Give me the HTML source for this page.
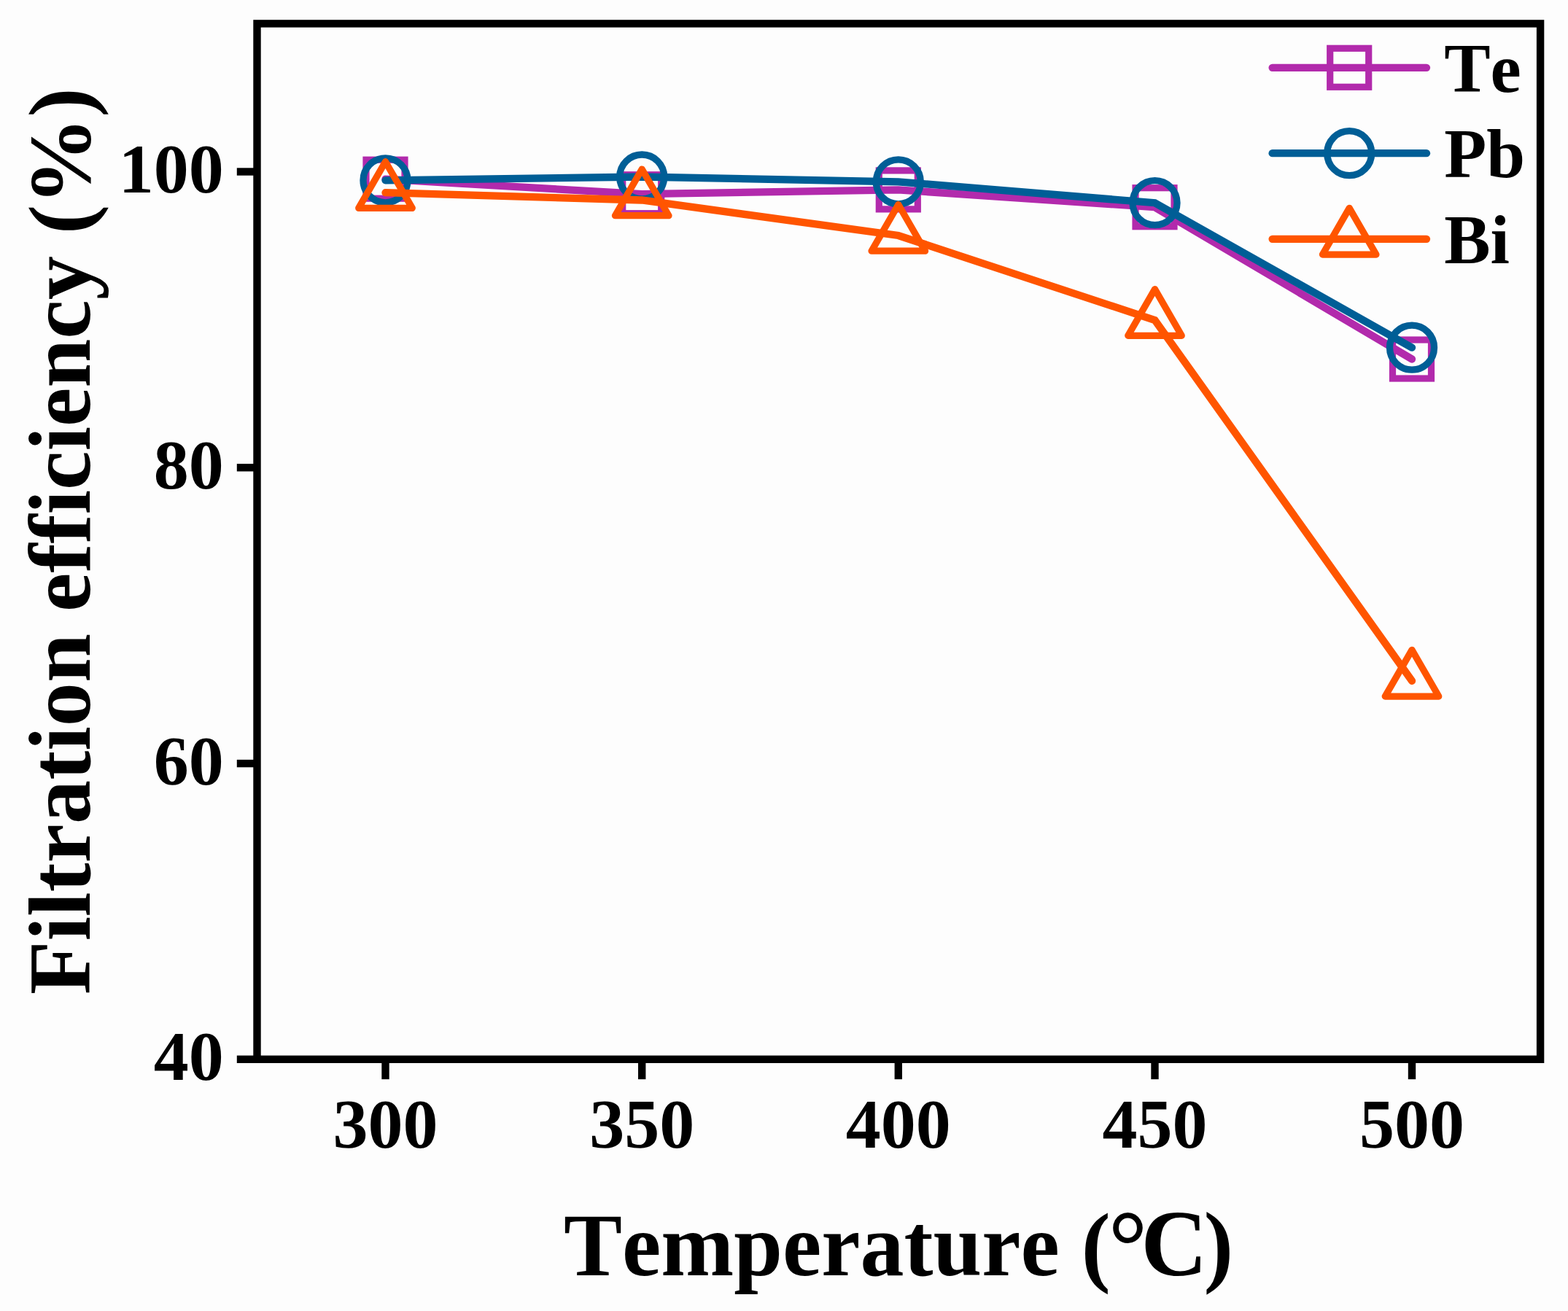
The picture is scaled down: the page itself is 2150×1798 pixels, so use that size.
<!DOCTYPE html>
<html><head><meta charset="utf-8"><title>Filtration efficiency vs temperature</title>
<style>
html,body{margin:0;padding:0;background:#fdfdfd;overflow:hidden;}
svg{display:block}
text{font-family:"Liberation Serif","Times New Roman",serif;font-weight:bold;font-kerning:none;font-variant-ligatures:none;fill:#000}
</style></head><body>
<svg width="2150" height="1798" viewBox="0 0 2150 1798">
<rect x="0" y="0" width="2150" height="1798" fill="#fdfdfd"/>
<rect x="352.5" y="32.4" width="1759.60" height="1420.40" fill="none" stroke="#000" stroke-width="10.4"/>
<line x1="324.8" y1="235.5" x2="352.5" y2="235.5" stroke="#000" stroke-width="10.4"/>
<line x1="324.8" y1="641.3" x2="352.5" y2="641.3" stroke="#000" stroke-width="10.4"/>
<line x1="324.8" y1="1047.1" x2="352.5" y2="1047.1" stroke="#000" stroke-width="10.4"/>
<line x1="324.8" y1="1452.8" x2="352.5" y2="1452.8" stroke="#000" stroke-width="10.4"/>
<line x1="528.5" y1="1452.8" x2="528.5" y2="1480.2" stroke="#000" stroke-width="10.4"/>
<line x1="880.2" y1="1452.8" x2="880.2" y2="1480.2" stroke="#000" stroke-width="10.4"/>
<line x1="1231.8" y1="1452.8" x2="1231.8" y2="1480.2" stroke="#000" stroke-width="10.4"/>
<line x1="1583.5" y1="1452.8" x2="1583.5" y2="1480.2" stroke="#000" stroke-width="10.4"/>
<line x1="1936.0" y1="1452.8" x2="1936.0" y2="1480.2" stroke="#000" stroke-width="10.4"/>
<text x="306.8" y="263.9" text-anchor="end" font-size="96">100</text>
<text x="306.8" y="669.7" text-anchor="end" font-size="96">80</text>
<text x="306.8" y="1075.5" text-anchor="end" font-size="96">60</text>
<text x="306.8" y="1481.2" text-anchor="end" font-size="96">40</text>
<text x="528.5" y="1573.5" text-anchor="middle" font-size="96">300</text>
<text x="880.2" y="1573.5" text-anchor="middle" font-size="96">350</text>
<text x="1231.8" y="1573.5" text-anchor="middle" font-size="96">400</text>
<text x="1583.5" y="1573.5" text-anchor="middle" font-size="96">450</text>
<text x="1936.0" y="1573.5" text-anchor="middle" font-size="96">500</text>
<g transform="translate(0,1748.8) scale(1,1.025) translate(0,-1748.8)">
<text x="773" y="1748.8" font-size="120">Temperature (<tspan x="1519.7" y="1755.1" font-size="134">°</tspan><tspan x="1564.5" y="1748.8" font-size="126">C</tspan><tspan x="1650.4" y="1748.8" font-size="122">)</tspan></text>
</g>
<text transform="translate(122.9,1364) rotate(-90)" x="0" y="0" font-size="120.4">Filtration efficiency (%)</text>
<polyline points="528.50,245.70 880.20,266.20 1231.80,260.40 1583.50,284.20 1936.00,492.55" fill="none" stroke="#b22aac" stroke-width="10.3" stroke-linecap="round" stroke-linejoin="miter"/>
<rect x="502.00" y="219.20" width="53.0" height="53.0" fill="none" stroke="#b22aac" stroke-width="9.2"/>
<rect x="853.70" y="239.70" width="53.0" height="53.0" fill="none" stroke="#b22aac" stroke-width="9.2"/>
<rect x="1205.30" y="233.90" width="53.0" height="53.0" fill="none" stroke="#b22aac" stroke-width="9.2"/>
<rect x="1557.00" y="257.70" width="53.0" height="53.0" fill="none" stroke="#b22aac" stroke-width="9.2"/>
<rect x="1909.50" y="466.05" width="53.0" height="53.0" fill="none" stroke="#b22aac" stroke-width="9.2"/>
<polyline points="528.50,247.30 880.20,242.50 1231.80,249.30 1583.50,278.20 1936.00,476.70" fill="none" stroke="#005e96" stroke-width="10.3" stroke-linecap="round" stroke-linejoin="miter"/>
<circle cx="528.50" cy="247.30" r="30.5" fill="none" stroke="#005e96" stroke-width="9.3"/>
<circle cx="880.20" cy="242.50" r="30.5" fill="none" stroke="#005e96" stroke-width="9.3"/>
<circle cx="1231.80" cy="249.30" r="30.5" fill="none" stroke="#005e96" stroke-width="9.3"/>
<circle cx="1583.50" cy="278.20" r="30.5" fill="none" stroke="#005e96" stroke-width="9.3"/>
<circle cx="1936.00" cy="476.70" r="30.5" fill="none" stroke="#005e96" stroke-width="9.3"/>
<polyline points="528.50,264.20 880.20,274.50 1231.80,323.00 1583.50,439.05 1936.00,933.80" fill="none" stroke="#ff5500" stroke-width="10.3" stroke-linecap="round" stroke-linejoin="miter"/>
<path d="M528.50,221.76 L565.25,285.42 L491.75,285.42 Z" fill="none" stroke="#ff5500" stroke-width="9.25" stroke-linejoin="round"/>
<path d="M880.20,232.06 L916.95,295.72 L843.45,295.72 Z" fill="none" stroke="#ff5500" stroke-width="9.25" stroke-linejoin="round"/>
<path d="M1231.80,280.56 L1268.55,344.22 L1195.05,344.22 Z" fill="none" stroke="#ff5500" stroke-width="9.25" stroke-linejoin="round"/>
<path d="M1583.50,396.61 L1620.25,460.27 L1546.75,460.27 Z" fill="none" stroke="#ff5500" stroke-width="9.25" stroke-linejoin="round"/>
<path d="M1936.00,891.36 L1972.75,955.02 L1899.25,955.02 Z" fill="none" stroke="#ff5500" stroke-width="9.25" stroke-linejoin="round"/>
<line x1="1744.6" y1="92.8" x2="1956.0" y2="92.8" stroke="#b22aac" stroke-width="10.3" stroke-linecap="round"/>
<rect x="1823.70" y="66.30" width="53.0" height="53.0" fill="none" stroke="#b22aac" stroke-width="9.2"/>
<text x="1980.2" y="125.7" font-size="95">Te</text>
<line x1="1744.6" y1="210.2" x2="1956.0" y2="210.2" stroke="#005e96" stroke-width="10.3" stroke-linecap="round"/>
<circle cx="1850.20" cy="210.20" r="30.5" fill="none" stroke="#005e96" stroke-width="9.3"/>
<text x="1980.2" y="242.6" font-size="95">Pb</text>
<line x1="1744.6" y1="327.8" x2="1956.0" y2="327.8" stroke="#ff5500" stroke-width="10.3" stroke-linecap="round"/>
<path d="M1850.20,285.36 L1886.95,349.02 L1813.45,349.02 Z" fill="none" stroke="#ff5500" stroke-width="9.25" stroke-linejoin="round"/>
<text x="1980.2" y="360.5" font-size="95">Bi</text>
</svg>
</body></html>
